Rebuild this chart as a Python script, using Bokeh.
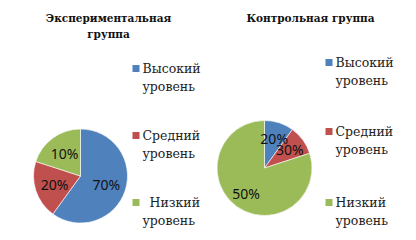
import math
from bokeh.plotting import figure
from bokeh.layouts import row
from bokeh.models import Range1d, ColumnDataSource
from bokeh.core.properties import value
from bokeh.embed import file_html
from bokeh.resources import INLINE

# ---- data ----
categories = ["Высокий уровень", "Средний уровень", "Низкий уровень"]
colors = ["#4F81BD", "#C0504D", "#9BBB59"]

titles = ["Экспериментальная\nгруппа", "Контрольная группа"]
# slice sizes as drawn in the picture
exp_values = [60, 20, 20]
ctl_values = [10, 10, 80]
# data labels as printed on the picture
exp_labels = ["70%", "20%", "10%"]
ctl_labels = ["20%", "30%", "50%"]

W, H = 208, 240
SERIF = "DejaVu Serif"


def panel(values, labels, title, cx, cy, r, leg_x, leg_ys, title_x, title_ys, low_indent, lab_frac):
    p = figure(width=W, height=H, output_backend="svg", toolbar_location=None,
               x_range=Range1d(0, W), y_range=Range1d(0, H),
               min_border=0, outline_line_color=None)
    p.axis.visible = False
    p.grid.visible = False

    total = float(sum(values))
    starts, ends, lx, ly = [], [], [], []
    acc = 0.0
    for v in values:
        a0 = acc / total * 2 * math.pi
        acc += v
        a1 = acc / total * 2 * math.pi
        starts.append(math.pi / 2 - a1)
        ends.append(math.pi / 2 - a0)
        mid = (a0 + a1) / 2
        lx.append(cx + lab_frac * r * math.sin(mid))
        ly.append(cy + lab_frac * r * math.cos(mid))
    src = ColumnDataSource(dict(start=starts, end=ends, color=colors, lx=lx, ly=ly, lab=labels))
    p.wedge(x=cx, y=cy, radius=r, start_angle="start", end_angle="end",
            fill_color="color", line_color="white", line_width=0.6, source=src)
    p.text(x="lx", y="ly", text="lab", source=src, text_font=value("Noto Sans"),
           text_font_size="14px", text_align="center", text_baseline="middle",
           text_color="#111111")

    for t, ty in zip(title.split("\n"), title_ys):
        p.text(x=[title_x], y=[H - ty], text=[t], text_font=value(SERIF),
               text_font_style="bold", text_font_size="10.5px", text_align="center",
               text_baseline="middle", text_color="#111111")

    for i, (cat, col) in enumerate(zip(categories, colors)):
        y0 = H - leg_ys[i]
        first, second = cat.split(" ")
        p.rect(x=[leg_x + 3.5], y=[y0], width=7, height=7, fill_color=col, line_color=None)
        indent = low_indent if i == 2 else 0
        p.text(x=[leg_x + 10 + indent], y=[y0], text=[first], text_font=value(SERIF),
               text_font_size="12.5px", text_align="left", text_baseline="middle",
               text_color="#222222")
        p.text(x=[leg_x + 10], y=[y0 - 18], text=[second], text_font=value(SERIF),
               text_font_size="12.5px", text_align="left", text_baseline="middle",
               text_color="#222222")
    return p


p1 = panel(exp_values, exp_labels, titles[0], 80, H - 175.5, 47, 132, [68, 135, 202], 108, [17, 33], 7, 0.58)
p2 = panel(ctl_values, ctl_labels, titles[1], 56, H - 167.5, 47.5, 117, [62, 131, 202], 102, [17], 0, 0.66)

layout = row(p1, p2, spacing=0)
open("out.html", "w").write(file_html(layout, INLINE))
